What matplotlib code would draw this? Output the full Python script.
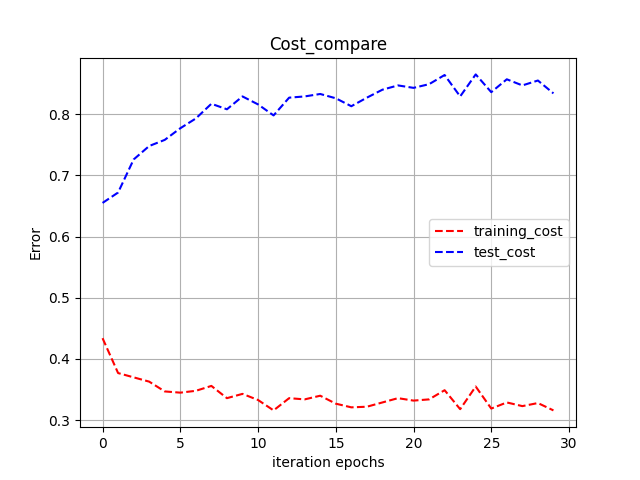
import matplotlib
matplotlib.use("Agg")
import matplotlib.pyplot as plt
import numpy as np

epochs = np.arange(30)
training_cost = [0.434, 0.377, 0.370, 0.363, 0.347, 0.345, 0.348, 0.356, 0.336, 0.343,
                 0.333, 0.316, 0.336, 0.334, 0.340, 0.327, 0.321, 0.322, 0.329, 0.336,
                 0.332, 0.334, 0.349, 0.318, 0.355, 0.319, 0.329, 0.323, 0.328, 0.316]
test_cost = [0.655, 0.672, 0.726, 0.748, 0.758, 0.777, 0.793, 0.817, 0.808, 0.829,
             0.816, 0.798, 0.827, 0.829, 0.833, 0.826, 0.813, 0.827, 0.840, 0.847,
             0.843, 0.849, 0.864, 0.829, 0.865, 0.836, 0.857, 0.847, 0.855, 0.834]

fig, ax = plt.subplots(figsize=(6.4, 4.8), dpi=100)
ax.plot(epochs, training_cost, 'r--', label='training_cost')
ax.plot(epochs, test_cost, 'b--', label='test_cost')
ax.set_title('Cost_compare')
ax.set_xlabel('iteration epochs')
ax.set_ylabel('Error')
ax.grid(True)
ax.legend(loc='center right')
fig.savefig('out.png')
